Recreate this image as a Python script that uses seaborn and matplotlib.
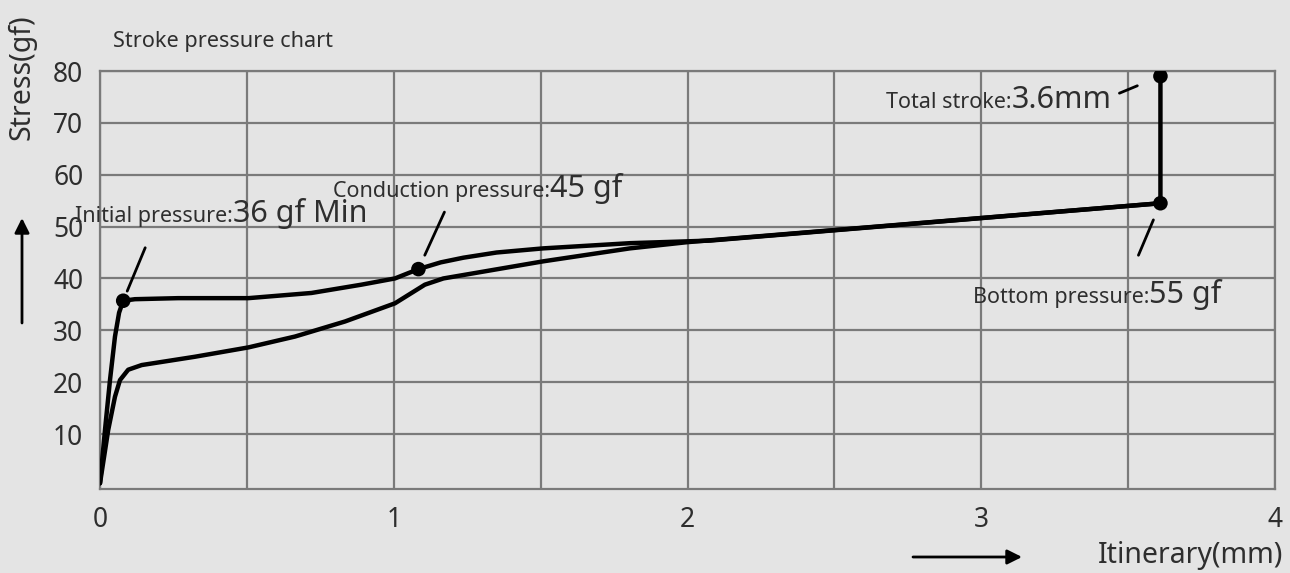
import matplotlib.pyplot as plt
import seaborn as sns
import pandas as pd

# loading curve (press) and return curve (release)
press_x = [0, 0.017, 0.034, 0.051, 0.065, 0.079, 0.119, 0.266, 0.505, 0.72, 0.89, 1.004,
           1.084, 1.16, 1.237, 1.35, 1.509, 1.804, 2.077, 3.61, 3.61]
press_y = [0.5, 10.8, 20.4, 28.8, 33.4, 35.7, 36.0, 36.2, 36.2, 37.2, 38.8, 40.0,
           41.8, 43.1, 44.0, 45.0, 45.8, 46.8, 47.3, 54.5, 79]
release_x = [3.61, 2.0, 1.804, 1.509, 1.169, 1.106, 1.004, 0.834, 0.664, 0.505, 0.323,
             0.142, 0.096, 0.068, 0.051, 0.028, 0]
release_y = [54.5, 47.0, 45.8, 43.3, 40.0, 38.8, 35.2, 31.7, 28.8, 26.7, 24.9,
             23.3, 22.4, 20.4, 17.2, 10.8, 0.5]

# marked points: initial, conduction, bottom, total stroke
dot_x = [0.079, 1.084, 3.61, 3.61]
dot_y = [35.7, 41.8, 54.5, 79]

x_ticks = [0, 1, 2, 3, 4]
y_ticks = [10, 20, 30, 40, 50, 60, 70, 80]

bg = '#e4e4e4'
grid_c = '#7a7a7a'
txt_c = '#2e2e2e'

sns.set_theme(style='white')
plt.rcParams['font.family'] = ['Noto Sans', 'DejaVu Sans']

fig = plt.figure(figsize=(12.9, 5.73), dpi=100, facecolor=bg)
ax = fig.add_axes([100 / 1290, 1 - 489 / 573, 1175 / 1290, 418 / 573])
ax.set_facecolor(bg)

press = pd.DataFrame({'x': press_x, 'y': press_y})
release = pd.DataFrame({'x': release_x, 'y': release_y})
for d in (press, release):
    sns.lineplot(data=d, x='x', y='y', sort=False, estimator=None, color='black', lw=3.2,
                 solid_joinstyle='round', solid_capstyle='round', ax=ax, zorder=3)
sns.scatterplot(x=dot_x, y=dot_y, color='black', s=110, edgecolor='none', ax=ax, zorder=4)

ax.set_xlim(0, 4)
ax.set_ylim(-0.6, 80)
ax.set_xticks(x_ticks)
ax.set_xticks([0.5, 1.5, 2.5, 3.5], minor=True)
ax.set_yticks(y_ticks)
ax.grid(True, which='both', color=grid_c, lw=1.6)
ax.set_axisbelow(True)
for s in ax.spines.values():
    s.set_color(grid_c)
    s.set_linewidth(1.6)
ax.tick_params(axis='both', which='both', length=0, labelsize=19, labelcolor=txt_c)
ax.tick_params(axis='y', pad=12)
ax.tick_params(axis='x', pad=12)
ax.set_xlabel('')
ax.set_ylabel('')

# leader lines from the labels towards the dots (end offset in pixels, gap in points)
leaders = [((22, 53), 7.5), ((26, 57), 11), ((-22, -52), 13), ((-41, -17), 18)]
for px, py, (off, gap) in zip(dot_x, dot_y, leaders):
    ax.annotate('', xy=(px, py), xytext=off, textcoords='offset pixels',
                arrowprops=dict(arrowstyle='-', color='black', lw=2, shrinkA=0, shrinkB=gap))

# two-size annotation labels
labels = [
    ('Initial pressure:', '36 gf Min', -0.085, 50.9),
    ('Conduction pressure:', '45 gf', 0.794, 55.7),
    ('Total stroke:', '3.6mm', 2.675, 72.9),
    ('Bottom pressure:', '55 gf', 2.972, 35.3),
]
fig.canvas.draw()
rend = fig.canvas.get_renderer()
for small, big, lx, ly in labels:
    t1 = ax.text(lx, ly, small, fontsize=15.5, color=txt_c, va='baseline', ha='left', zorder=5)
    bb = t1.get_window_extent(renderer=rend)
    x2 = ax.transData.inverted().transform((bb.x1, 0))[0]
    ax.text(x2, ly, big, fontsize=22, color=txt_c, va='baseline', ha='left', zorder=5)

fig.text(113 / 1290, 1 - 41 / 573, 'Stroke pressure chart', fontsize=15.6, color=txt_c,
         ha='left', va='center')
fig.text(22 / 1290, 1 - 77 / 573, 'Stress(gf)', fontsize=20.5, color=txt_c,
         rotation=90, ha='center', va='center')
fig.text(1283 / 1290, 1 - 555 / 573, 'Itinerary(mm)', fontsize=20.5, color=txt_c,
         ha='right', va='center')

# direction arrows next to the axis names
ax.annotate('', xy=(22, 355), xycoords='figure pixels', xytext=(22, 250), textcoords='figure pixels',
            arrowprops=dict(arrowstyle='-|>', color='black', lw=2, mutation_scale=22, shrinkA=0, shrinkB=0))
ax.annotate('', xy=(1022, 16), xycoords='figure pixels', xytext=(913, 16), textcoords='figure pixels',
            arrowprops=dict(arrowstyle='-|>', color='black', lw=2, mutation_scale=22, shrinkA=0, shrinkB=0))

fig.savefig('out.png', dpi=100, facecolor=bg)
